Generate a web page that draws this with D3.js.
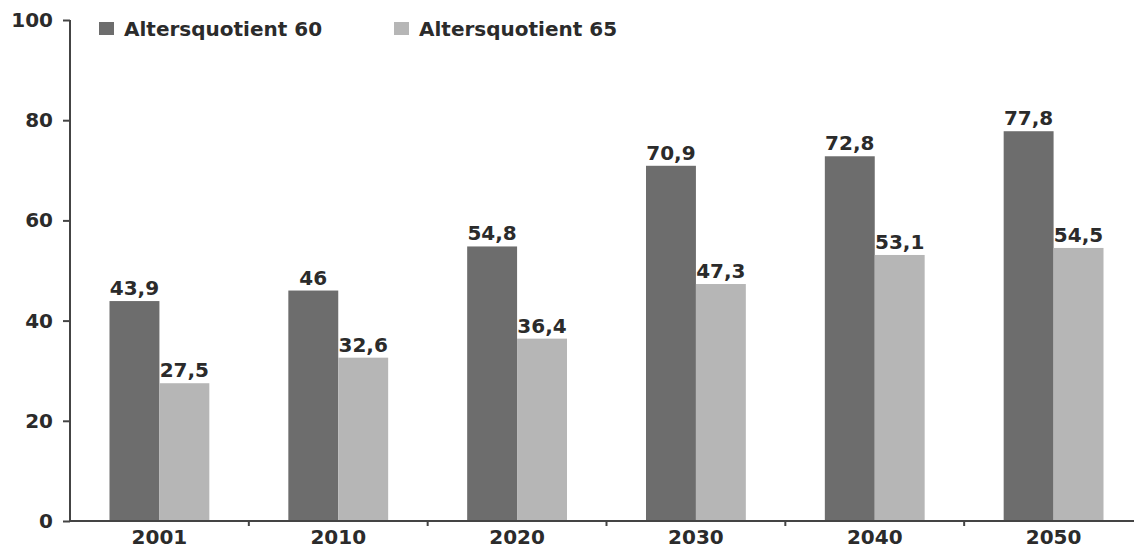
<!DOCTYPE html>
<html>
<head>
<meta charset="utf-8">
<script src="https://cdn.jsdelivr.net/npm/d3@7"></script>
<style>
  body { margin: 0; background: #fff; }
  text { font-family: "DejaVu Sans", sans-serif; font-weight: bold; }
</style>
</head>
<body>
<script>
// data
var years = ["2001", "2010", "2020", "2030", "2040", "2050"];
var series_names = ["Altersquotient 60", "Altersquotient 65"];
var quot60 = [43.9, 46, 54.8, 70.9, 72.8, 77.8];
var quot65 = [27.5, 32.6, 36.4, 47.3, 53.1, 54.5];
var y_ticks = [0, 20, 40, 60, 80, 100];
var series_colors = ["#6d6d6d", "#b6b6b6"];

var W = 1134, H = 546;
var TEXT_COLOR = "#2b2b2b";
var FONT_SIZE = "20px";

var svg = d3.select("body").append("svg")
	.attr("width", W)
	.attr("height", H);

var x = d3.scaleBand()
	.domain(years)
	.range([70, 1143])
	.paddingInner(0)
	.paddingOuter(0);

var sub = d3.scaleBand()
	.domain([0, 1])
	.range([39.5, x.bandwidth() - 39.5]);

var y = d3.scaleLinear()
	.domain([0, 100])
	.range([521, 20]);

var fmt = function(v) { return String(v).replace(".", ","); };

var rows = years.map(function(yr, i) {
	return {year: yr, vals: [quot60[i], quot65[i]]};
});

var groups = svg.selectAll(".grp")
	.data(rows)
	.enter()
	.append("g")
		.attr("class", "grp")
		.attr("transform", d => "translate(" + x(d.year) + ",0)");

groups.selectAll("rect")
	.data(d => d.vals.map((v, k) => ({k: k, v: v})))
	.enter()
	.append("rect")
		.attr("x", d => sub(d.k))
		.attr("width", sub.bandwidth())
		.attr("y", d => y(d.v))
		.attr("height", d => y(0) - y(d.v))
		.style("fill", d => series_colors[d.k]);

groups.selectAll("text.val")
	.data(d => d.vals.map((v, k) => ({k: k, v: v})))
	.enter()
	.append("text")
		.attr("class", "val")
		.attr("x", d => sub(d.k) + sub.bandwidth() / 2)
		.attr("y", d => y(d.v) - 6)
		.attr("text-anchor", "middle")
		.style("font-size", FONT_SIZE)
		.style("fill", TEXT_COLOR)
		.text(d => fmt(d.v));

// y axis
var yAxis = svg.append("g")
	.attr("transform", "translate(70,0)")
	.call(d3.axisLeft(y).tickValues(y_ticks).tickSize(7).tickPadding(10));

// x axis, small ticks sit between the categories
var xAxis = svg.append("g")
	.attr("transform", "translate(0," + y(0) + ")")
	.call(d3.axisBottom(x).tickSize(0).tickPadding(9));

xAxis.selectAll(".sep")
	.data(years.slice(1))
	.enter()
	.append("line")
		.attr("class", "sep")
		.attr("x1", d => x(d))
		.attr("x2", d => x(d))
		.attr("y1", 0)
		.attr("y2", 5)
		.attr("stroke", "#444")
		.attr("stroke-width", 2);

[yAxis, xAxis].forEach(function(ax) {
	ax.select(".domain").attr("stroke", "#444").attr("stroke-width", 2);
	ax.selectAll(".tick line").attr("stroke", "#444").attr("stroke-width", 2);
	ax.selectAll("text")
		.style("font-size", FONT_SIZE)
		.attr("fill", TEXT_COLOR);
});
yAxis.select(".domain").attr("d", "M0," + y(100) + "V" + y(0));
xAxis.select(".domain").attr("d", "M70,0H" + W);

// legend
var legend_x = [99, 394];
var legend = svg.selectAll(".leg")
	.data(series_names)
	.enter()
	.append("g")
		.attr("class", "leg")
		.attr("transform", (d, i) => "translate(" + legend_x[i] + ",22)");

legend.append("rect")
	.attr("width", 15)
	.attr("height", 13)
	.style("fill", (d, i) => series_colors[i]);

legend.append("text")
	.attr("x", 25)
	.attr("y", 14)
	.style("font-size", FONT_SIZE)
	.style("fill", TEXT_COLOR)
	.text(d => d);
</script>
</body>
</html>
